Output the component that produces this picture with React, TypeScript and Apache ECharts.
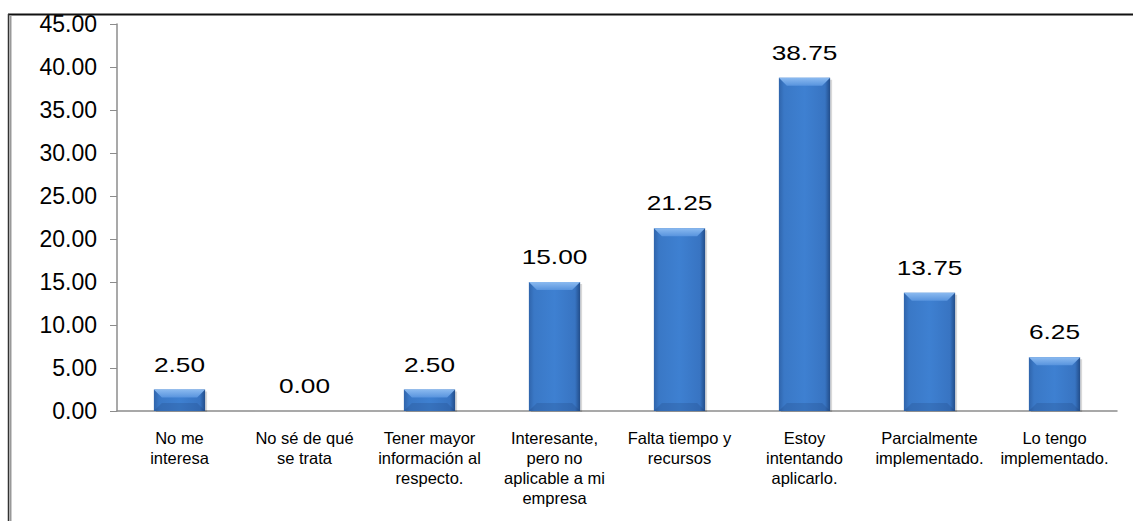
import React, { useEffect, useRef } from "react";
import * as echarts from "echarts";

const categories: string[] = [
  "No me\ninteresa",
  "No sé de qué\nse trata",
  "Tener mayor\ninformación al\nrespecto.",
  "Interesante,\npero no\naplicable a mi\nempresa",
  "Falta tiempo y\nrecursos",
  "Estoy\nintentando\naplicarlo.",
  "Parcialmente\nimplementado.",
  "Lo tengo\nimplementado.",
];
const values: number[] = [2.5, 0, 2.5, 15, 21.25, 38.75, 13.75, 6.25];
const yMin = 0;
const yMax = 45;
const yStep = 5;

export default function App() {
  const ref = useRef<HTMLDivElement>(null);

  useEffect(() => {
    if (!ref.current) return;
    const chart = echarts.init(ref.current, undefined, { renderer: "svg" });

    // Beveled bar with its value label above it
    const renderBar = (params: any, api: any) => {
      const idx = api.value(0);
      const val = api.value(1);
      const top = api.coord([idx, val]);
      const base = api.coord([idx, 0]);
      const bw = api.size([1, 0])[0] * 0.41;
      const x0 = top[0] - bw / 2;
      const x1 = top[0] + bw / 2;
      const y0 = top[1];
      const y1 = base[1];
      const h = y1 - y0;
      const bev = Math.min(8, h / 2);
      const children: any[] = [];
      if (h > 0.5) {
        children.push(
          {
            type: "rect",
            shape: { x: x0 + 2, y: y0 + 2, width: bw, height: h - 1 },
            style: { fill: "rgba(0,0,0,0.15)" },
          },
          {
            type: "rect",
            shape: { x: x0, y: y0, width: bw, height: h },
            style: {
              fill: new echarts.graphic.LinearGradient(0, 0, 1, 0, [
                { offset: 0, color: "#2f64ab" },
                { offset: 0.1, color: "#3a78c6" },
                { offset: 0.5, color: "#3e80d1" },
                { offset: 0.9, color: "#3874c2" },
                { offset: 1, color: "#224d8a" },
              ]),
            },
          },
          {
            type: "polygon",
            shape: {
              points: [
                [x0, y0],
                [x1, y0],
                [x1 - bev, y0 + bev],
                [x0 + bev, y0 + bev],
              ],
            },
            style: {
              fill: new echarts.graphic.LinearGradient(0, 0, 0, 1, [
                { offset: 0, color: "#8bbaf0" },
                { offset: 1, color: "#5894de" },
              ]),
            },
          },
          {
            type: "polygon",
            shape: {
              points: [
                [x0, y1],
                [x1, y1],
                [x1 - bev, y1 - bev],
                [x0 + bev, y1 - bev],
              ],
            },
            style: { fill: "rgba(20,50,100,0.18)" },
          }
        );
      }
      children.push({
        type: "text",
        x: top[0],
        y: y0 - 15,
        scaleX: 1.25,
        style: {
          text: Number(val).toFixed(2),
          fill: "#000",
          font: '21px "Liberation Sans", Arial, sans-serif',
          align: "center",
          verticalAlign: "bottom",
        },
      });
      return { type: "group", children };
    };

    chart.setOption({
      animation: false,
      backgroundColor: "#fff",
      grid: { left: 117, right: 16, top: 24, bottom: 110, containLabel: false },
      xAxis: {
        type: "category",
        data: categories,
        axisLine: { lineStyle: { color: "#8c8c8c", width: 1.5 } },
        axisTick: { show: false },
        axisLabel: {
          interval: 0,
          margin: 17,
          color: "#000",
          fontSize: 16.5,
          lineHeight: 20,
          fontFamily: '"Liberation Sans", Arial, sans-serif',
        },
      },
      yAxis: {
        type: "value",
        min: yMin,
        max: yMax,
        interval: yStep,
        axisLine: { show: true, lineStyle: { color: "#8c8c8c", width: 1.5 } },
        axisTick: { show: true, inside: false, length: 7, lineStyle: { color: "#8c8c8c" } },
        splitLine: { show: false },
        axisLabel: {
          margin: 20,
          color: "#000",
          fontSize: 23,
          fontFamily: '"Liberation Sans", Arial, sans-serif',
          formatter: (v: number) => v.toFixed(2),
        },
      },
      series: [
        {
          type: "custom",
          renderItem: renderBar,
          data: values.map((v, i) => [i, v]),
          encode: { x: 0, y: 1 },
          clip: false,
        },
      ],
      graphic: [
        {
          type: "line",
          shape: { x1: 8, y1: 14.5, x2: 1133, y2: 14.5 },
          style: { stroke: "#111", lineWidth: 2 },
          z: 100,
        },
        {
          type: "line",
          shape: { x1: 8.5, y1: 14, x2: 8.5, y2: 521 },
          style: { stroke: "#333", lineWidth: 1.5 },
          z: 100,
        },
        {
          type: "line",
          shape: { x1: 10.5, y1: 15, x2: 10.5, y2: 521 },
          style: { stroke: "#999", lineWidth: 2 },
          z: 100,
        },
      ],
    });

    return () => chart.dispose();
  }, []);

  return (
    <div
      ref={ref}
      style={{ position: "absolute", left: 0, top: 0, width: 1133, height: 521 }}
    />
  );
}
